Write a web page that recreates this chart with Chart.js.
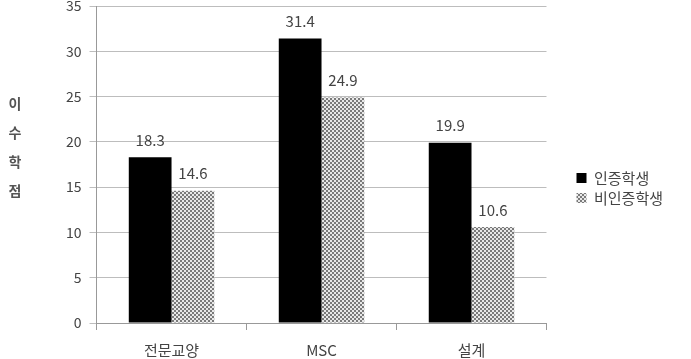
<!DOCTYPE html>
<html><head><meta charset="utf-8">
<script src="https://cdn.jsdelivr.net/npm/chart.js@4"></script>
<style>html,body{margin:0;padding:0;background:#fff}#wrap{width:691px;height:359px}</style>
</head><body><div id="wrap"><canvas id="c" width="691" height="359"></canvas></div>
<script>
const categories = ['전문교양', 'MSC', '설계'];
const certified = [18.3, 31.4, 19.9];
const nonCertified = [14.6, 24.9, 10.6];
const seriesNames = ['인증학생', '비인증학생'];
const yTicks = [0, 5, 10, 15, 20, 25, 30, 35];
const axisTitle = ['이', '수', '학', '점'];

function makePattern() {
  const p = document.createElement('canvas');
  p.width = 4; p.height = 4;
  const g = p.getContext('2d');
  g.fillStyle = '#e8e8e8'; g.fillRect(0, 0, 4, 4);
  g.fillStyle = '#7a7a7a';
  g.fillRect(0, 0, 2, 2); g.fillRect(2, 2, 2, 2);
  return g.createPattern(p, 'repeat');
}
const pat = makePattern();
const FONT = "'Noto Sans CJK KR', 'Noto Sans', sans-serif";
const TXT = '#444';

const labelPlugin = {
  id: 'valueLabels',
  afterDatasetsDraw(chart) {
    const ctx = chart.ctx;
    ctx.save();
    ctx.font = '15px ' + FONT;
    ctx.fillStyle = TXT;
    ctx.textAlign = 'center';
    ctx.textBaseline = 'middle';
    chart.data.datasets.forEach((ds, i) => {
      chart.getDatasetMeta(i).data.forEach((bar, j) => {
        ctx.fillText(ds.data[j].toFixed(1), bar.x, bar.y - 17);
      });
    });
    ctx.restore();
  }
};
const titlePlugin = {
  id: 'vTitle',
  afterDraw(chart) {
    const ctx = chart.ctx;
    ctx.save();
    ctx.font = 'bold 14px ' + FONT;
    ctx.fillStyle = '#555';
    ctx.textAlign = 'center';
    ctx.textBaseline = 'middle';
    axisTitle.forEach((ch, i) => ctx.fillText(ch, 15, 104 + i * 29));
    ctx.restore();
  }
};
const legendShift = {
  id: 'legendShift',
  afterLayout(chart) {
    if (chart.legend) { chart.legend.left += 25; chart.legend.right += 25; }
  }
};

new Chart(document.getElementById('c'), {
  type: 'bar',
  data: {
    labels: categories,
    datasets: [
      { label: seriesNames[0], data: certified, backgroundColor: '#000', borderWidth: 0 },
      { label: seriesNames[1], data: nonCertified, backgroundColor: pat, borderWidth: 0 }
    ]
  },
  options: {
    responsive: false,
    animation: false,
    layout: { padding: { left: 58, top: 6, right: 43, bottom: -11 } },
    datasets: { bar: { categoryPercentage: 0.57, barPercentage: 1.0 } },
    plugins: {
      legend: {
        position: 'right',
        align: 'center',
        labels: { boxWidth: 10, boxHeight: 10, padding: 5, color: TXT, font: { family: FONT, size: 15 } }
      },
      tooltip: { enabled: false }
    },
    scales: {
      x: {
        grid: { display: true, drawOnChartArea: false, offset: true, color: '#999', tickLength: 7 },
        border: { color: '#999' },
        ticks: { color: TXT, font: { family: FONT, size: 15 }, padding: 11 }
      },
      y: {
        min: 0, max: 35,
        afterBuildTicks(axis) { axis.ticks = yTicks.map(v => ({ value: v })); },
        afterFit(axis) { axis.paddingTop = 0; },
        grid: { color: '#bdbdbd', tickLength: 7 },
        border: { color: '#999' },
        ticks: { color: TXT, font: { family: FONT, size: 14 }, padding: 8 }
      }
    }
  },
  plugins: [labelPlugin, titlePlugin, legendShift]
});
</script></body></html>
